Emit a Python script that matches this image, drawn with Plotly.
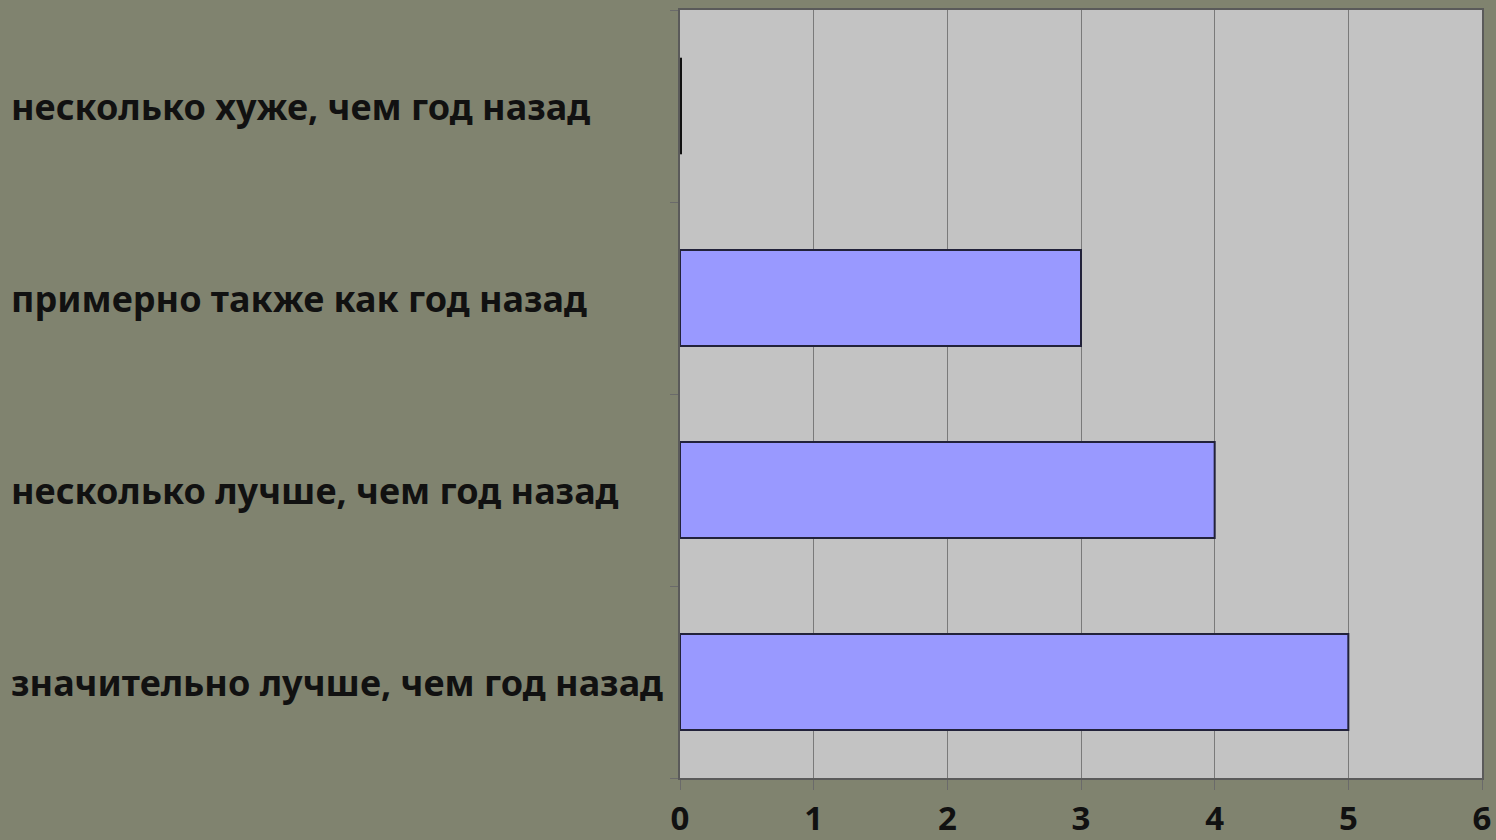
import plotly.graph_objects as go

categories = [
    "значительно лучше, чем год назад",
    "несколько лучше, чем год назад",
    "примерно также как год назад",
    "несколько хуже, чем год назад",
]
values = [5, 4, 3, 0]
x_ticks = [0, 1, 2, 3, 4, 5, 6]

BG = "#80836f"
PLOT_BG = "#c3c3c3"
BAR = "#9999ff"
EDGE = "#22223a"
FONT = "Noto Sans"

fig = go.Figure()
fig.add_trace(go.Bar(
    y=categories, x=values, orientation="h",
    marker=dict(color=BAR, line=dict(color=EDGE, width=2)),
    width=0.5, hoverinfo="x+y",
))
# zero-valued bars still show their edge as a thin vertical line
zero_y = [c for c, v in zip(categories, values) if v == 0]
zero_x = [v for v in values if v == 0]
fig.add_trace(go.Scatter(
    y=zero_y, x=zero_x, mode="markers",
    marker=dict(symbol="line-ns", size=69, line=dict(color="#111111", width=4)),
    hoverinfo="skip", cliponaxis=False,
))

L, R, T, B = 680, 14, 10, 62
W, H = 1496, 840
pw = W - L - R
for c in categories:
    fig.add_annotation(
        x=-(L - 9) / pw, xref="paper", y=c, yref="y",
        text=c, showarrow=False, xanchor="left", yanchor="middle",
        font=dict(family=FONT, size=36, color="#111111", weight="bold"),
    )

fig.update_layout(
    width=W, height=H,
    margin=dict(l=L, r=R, t=T, b=B, autoexpand=False),
    paper_bgcolor=BG, plot_bgcolor=PLOT_BG,
    showlegend=False, bargap=0.5,
    font=dict(family=FONT, size=30, color="#111111"),
)
fig.update_xaxes(
    range=[0, 6], tickvals=x_ticks, ticktext=[str(t) for t in x_ticks],
    showgrid=True, gridcolor="#7a7a7a", gridwidth=1,
    showline=True, linecolor="#5a5a5a", linewidth=2, mirror=True,
    ticks="outside", ticklen=10, tickcolor="#6a6a6a",
    zeroline=False, automargin=False,
    tickfont=dict(family=FONT, size=33, color="#111111", weight="bold"),
)
fig.update_yaxes(
    categoryorder="array", categoryarray=categories,
    showticklabels=False, showgrid=False,
    showline=True, linecolor="#5a5a5a", linewidth=2, mirror=True,
    ticks="outside", ticklen=8, tickcolor="#6a6a6a", tickson="boundaries",
    zeroline=False, automargin=False,
)

fig.write_html(
    "out.html",
    config={"displayModeBar": False},
    post_script="document.body.style.margin='0';document.body.style.background='#80836f';document.body.style.overflow='hidden';",
)
